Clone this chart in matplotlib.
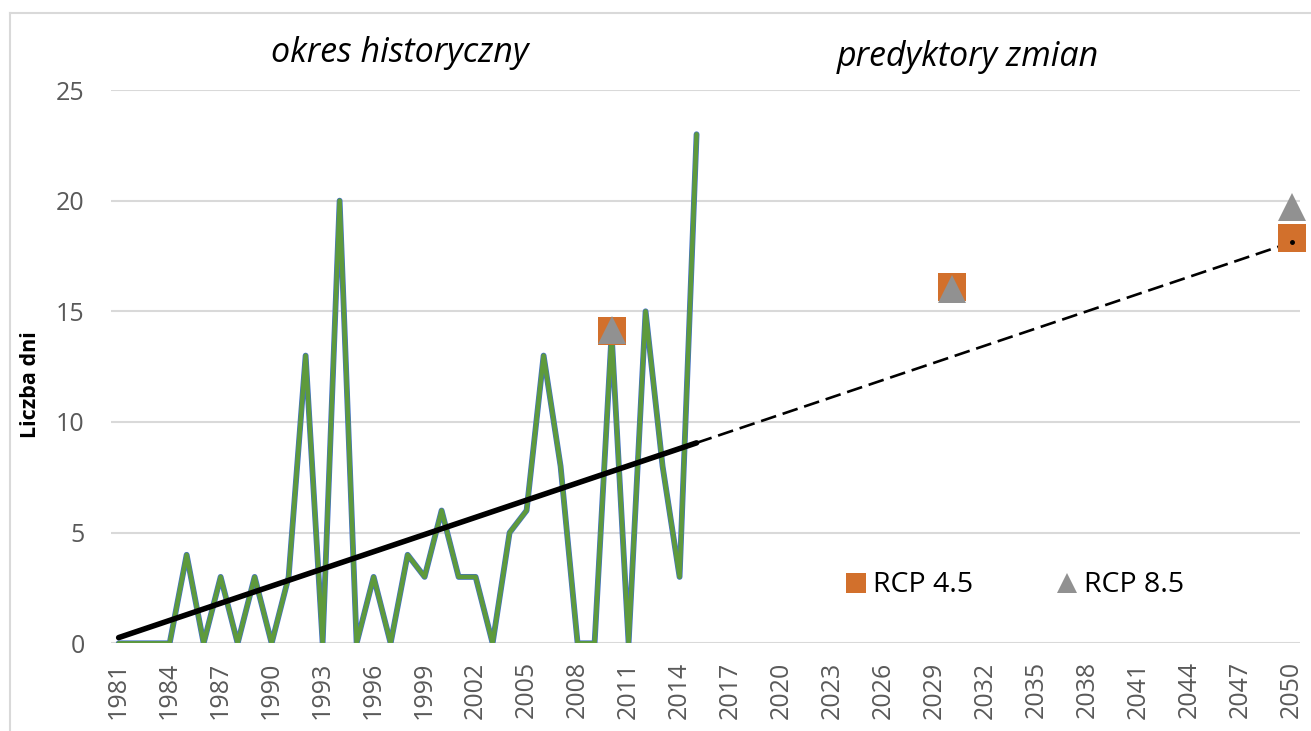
import numpy as np
import matplotlib
matplotlib.use('Agg')
import matplotlib.pyplot as plt
from matplotlib.lines import Line2D

plt.rcParams['font.family'] = ['Open Sans', 'DejaVu Sans']

# dane historyczne 1981-2015
years_hist = np.arange(1981, 2016)
days = [0, 0, 0, 0, 4, 0, 3, 0, 3, 0, 3, 13, 0, 20, 0, 3, 0, 4, 3, 6,
        3, 3, 0, 5, 6, 13, 8, 0, 0, 14, 0, 15, 8, 3, 23]

# projekcje
years_rcp = [2010, 2030, 2050]
rcp45 = [14.1, 16.1, 18.3]
rcp85 = [14.15, 16.0, 19.7]

tick_years = list(range(1981, 2051, 3))

fig = plt.figure(figsize=(13.11, 7.31), dpi=100)
ax = fig.add_axes([111 / 1311, 1 - 643.3 / 731, (1300 - 111) / 1311, (643.3 - 90) / 731])

# ramka wykresu
fig.add_artist(Line2D([10 / 1311, 10 / 1311], [0, 1 - 13 / 731], transform=fig.transFigure,
                      color='#d9d9d9', lw=1.5))
fig.add_artist(Line2D([10 / 1311, 1], [1 - 13 / 731, 1 - 13 / 731], transform=fig.transFigure,
                      color='#d9d9d9', lw=1.5))

ax.plot(years_hist, days, color='#4472c4', lw=4.2, solid_joinstyle='round',
        solid_capstyle='round', zorder=3)
ax.plot(years_hist, days, color='#5e9a3c', lw=3.2, solid_joinstyle='round',
        solid_capstyle='round', zorder=4)

# linia trendu
a, b = np.polyfit(years_hist, days, 1)
ax.plot([1981, 2015], [a * 1981 + b, a * 2015 + b], color='black', lw=4.0,
        solid_capstyle='round', zorder=5)
ax.plot([2015, 2050], [a * 2015 + b, a * 2050 + b], color='black', lw=1.9,
        dashes=(6, 2.6), zorder=5)
ax.plot([2050], [a * 2050 + b], 'o', color='black', ms=2.5, zorder=8, clip_on=False)

ax.plot(years_rcp, rcp45, 's', color='#d2702c', ms=19.5, mew=0, ls='none',
        label='RCP 4.5', zorder=6, clip_on=False)
ax.plot(years_rcp, rcp85, '^', color='#919191', ms=19.5, mew=0, ls='none',
        label='RCP 8.5', zorder=7, clip_on=False)

ax.set_xlim(1980.55, 2050.5)
ax.set_ylim(0, 25)
ax.set_yticks([0, 5, 10, 15, 20, 25])
ax.set_xticks(tick_years)
ax.set_xticklabels([str(y) for y in tick_years], rotation=90)
ax.tick_params(axis='both', length=0, labelsize=18, labelcolor='#595959')
ax.tick_params(axis='y', pad=19)
ax.tick_params(axis='x', pad=13)
ax.grid(axis='y', color='#d9d9d9', lw=1.5)
ax.set_axisbelow(True)
for s in ax.spines.values():
    s.set_visible(False)

fig.text(30 / 1311, 1 - 385 / 731, 'Liczba dni', rotation=90, ha='center', va='center',
         fontsize=15.5, fontweight='bold', color='black')
fig.text(400 / 1311, 1 - 62 / 731, 'okres historyczny', style='italic', fontsize=24.5,
         ha='center', va='baseline')
fig.text(968 / 1311, 1 - 66 / 731, 'predyktory zmian', style='italic', fontsize=24.5,
         ha='center', va='baseline')

ax.legend(loc='center left', bbox_to_anchor=(842 / 1311, 1 - 585.5 / 731),
          bbox_transform=fig.transFigure, ncol=2, frameon=False, markerscale=0.74,
          fontsize=20.5, handlelength=1.0, handletextpad=0.1, columnspacing=2.8,
          borderpad=0, borderaxespad=0, numpoints=1)

fig.savefig('out.png', dpi=100)
